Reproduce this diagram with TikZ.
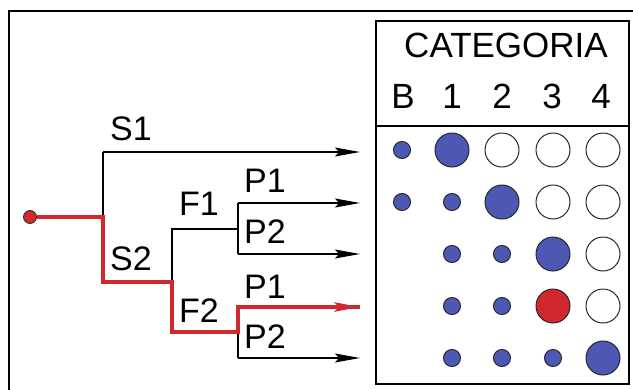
\documentclass[tikz,border=0pt]{standalone}
\usepackage{fontspec}
\setmainfont{Liberation Sans}
\usetikzlibrary{arrows.meta}
\definecolor{dotblue}{RGB}{76,88,178}
\definecolor{pathred}{RGB}{208,40,44}
\definecolor{rimgray}{RGB}{40,40,50}
\tikzset{
  branch/.style={line width=1.3pt, black},
  tip/.style={-{Stealth[length=25pt,width=9pt,inset=4pt]}},
  chosen/.style={line width=4pt, pathred, line join=miter},
  lbl/.style={font=\fontsize{34}{34}\selectfont, inner sep=0pt, anchor=base west},
  head/.style={font=\fontsize{35}{35}\selectfont, inner sep=0pt, anchor=base},
  dot/.style={circle, draw=rimgray, line width=1pt, inner sep=0pt},
  smalldot/.style={dot, fill=dotblue, minimum size=17pt},
  bigblue/.style={dot, fill=dotblue, minimum size=34pt},
  bigwhite/.style={dot, fill=white, minimum size=34pt},
  bigred/.style={dot, fill=pathred, minimum size=34pt},
}
\begin{document}
\begin{tikzpicture}[x=1pt,y=-1pt]
\useasboundingbox (0,0) rectangle (633,389);
\fill[white] (0,0) rectangle (633,389);

% outer frame (runs off the right and bottom edges)
\draw[line width=1.8pt] (9,400) -- (9,11) -- (650,11);

% category table
\draw[line width=1.3pt] (376,21) rectangle (629,384);
\draw[line width=1.3pt] (376,126) -- (629,126);
\node[head] (cat) at (506,57) {CATEGORIA};
\node[head] (hB) at (403,108) {B};
\node[head] (h1) at (452,108) {1};
\node[head] (h2) at (502,108) {2};
\node[head] (h3) at (552,108) {3};
\node[head] (h4) at (601,108) {4};

% tree junctions
\coordinate (j0) at (103,217);
\coordinate (s1c) at (103,152);
\coordinate (s2c) at (103,282);
\coordinate (f0) at (172,282);
\coordinate (f1c) at (172,229);
\coordinate (f2c) at (172,332);
\coordinate (p1j) at (238,229);
\coordinate (p1a) at (238,203);
\coordinate (p1b) at (238,254);
\coordinate (p2j) at (238,332);
\coordinate (p2a) at (238,307);
\coordinate (p2b) at (238,358);
% arrow ends
\coordinate (e1) at (360,152);
\coordinate (e2) at (360,203);
\coordinate (e3) at (360,254);
\coordinate (e4) at (360,307);
\coordinate (e5) at (360,358);

% black branches
\draw[branch] (j0) -- (s1c);
\draw[branch,tip] (s1c) -- (e1);
\draw[branch] (f0) -- (f1c) -- (p1j);
\draw[branch] (p1a) -- (p1b);
\draw[branch,tip] (p1a) -- (e2);
\draw[branch,tip] (p1b) -- (e3);
\draw[branch] (p2a) -- (p2b);
\draw[branch,tip] (p2b) -- (e5);

% highlighted path
\node[circle, draw=rimgray, fill=pathred, line width=0.8pt, minimum size=13pt, inner sep=0pt] (start) at (30,217) {};
\draw[chosen] (start.east) -- (j0) -- (s2c) -- (f0) -- (f2c) -- (p2j) -- (p2a) -- (e4);
\draw[line width=4pt, pathred, -{Stealth[length=25pt,width=9pt,inset=4pt]}] (330,307) -- (e4);

% branch labels
\node[lbl] (tS1) at (110,140) {S1};
\node[lbl] (tS2) at (110,270) {S2};
\node[lbl] (tF1) at (179,215) {F1};
\node[lbl] (tF2) at (179,322) {F2};
\node[lbl] (tP1a) at (244,192) {P1};
\node[lbl] (tP2a) at (244,243) {P2};
\node[lbl] (tP1b) at (244,298) {P1};
\node[lbl] (tP2b) at (244,348) {P2};

% circles, row by row
\node[smalldot] (r1b) at (402,150) {};
\node[bigblue]  (r11) at (452,150) {};
\node[bigwhite] (r12) at (502,150) {};
\node[bigwhite] (r13) at (553,150) {};
\node[bigwhite] (r14) at (603,150) {};

\node[smalldot] (r2b) at (402,202) {};
\node[smalldot] (r21) at (452,202) {};
\node[bigblue]  (r22) at (502,202) {};
\node[bigwhite] (r23) at (553,202) {};
\node[bigwhite] (r24) at (603,202) {};

\node[smalldot] (r31) at (452,254) {};
\node[smalldot] (r32) at (502,254) {};
\node[bigblue]  (r33) at (553,254) {};
\node[bigwhite] (r34) at (603,254) {};

\node[smalldot] (r41) at (452,306) {};
\node[smalldot] (r42) at (502,306) {};
\node[bigred]   (r43) at (553,306) {};
\node[bigwhite] (r44) at (603,306) {};

\node[smalldot] (r51) at (452,358) {};
\node[smalldot] (r52) at (502,358) {};
\node[smalldot] (r53) at (553,358) {};
\node[bigblue]  (r54) at (603,358) {};
\end{tikzpicture}
\end{document}
